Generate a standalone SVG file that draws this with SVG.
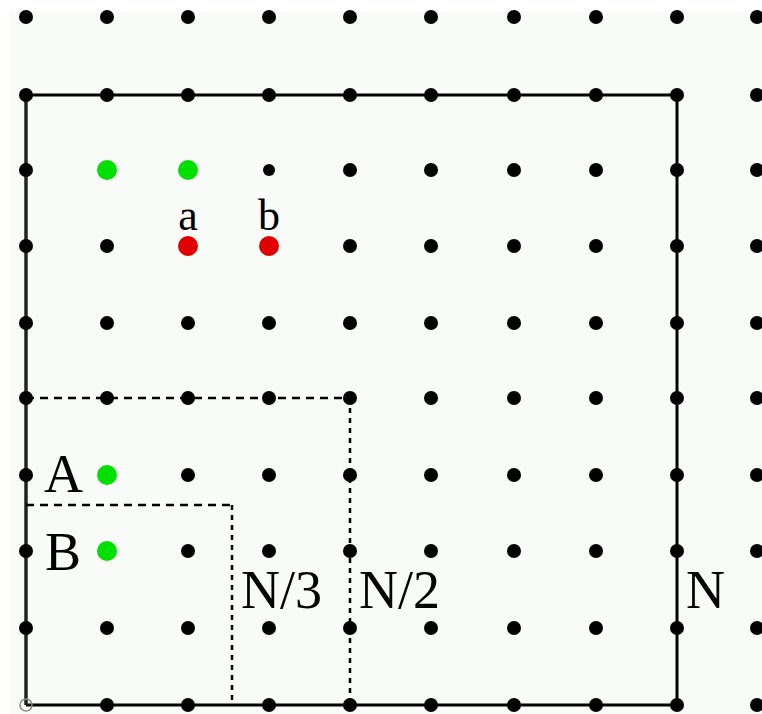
<svg xmlns="http://www.w3.org/2000/svg" width="762" height="714" viewBox="0 0 762 714">
<style>
.bg{fill:#f9fbf9}
.d{fill:#000}
.g{fill:#00e000}
.r{fill:#e00000}
.solid{stroke:#000;stroke-width:3;fill:none}
.dash{stroke:#000;stroke-width:2.5;fill:none;stroke-dasharray:8,6}
.dot{stroke:#000;stroke-width:2.5;fill:none;stroke-dasharray:5,5}
text{font-family:"Liberation Serif","Times New Roman",serif;fill:#000}
.big{font-size:54px}
.sm{font-size:44px}
</style>
<rect x="0" y="0" width="762" height="714" fill="#ffffff"/>
<rect class="bg" x="10" y="12" width="752" height="702"/>
<g id="connectors">
<path class="solid" d="M26 95 H677 V705 H26"/>
<path stroke="#222" stroke-width="3.5" fill="none" d="M26 95 V705"/>
<path class="dash" d="M26 398 H350"/>
<path class="dot" d="M350 398 V705"/>
<path class="dash" d="M26 505 H232"/>
<path class="dot" d="M232 505 V705"/>
<circle cx="26" cy="705" r="6" fill="none" stroke="#888" stroke-width="1.5"/>
</g>
<g id="grid">
<g class="d">
<circle cx="26" cy="17" r="7"/><circle cx="107" cy="17" r="7"/><circle cx="188" cy="17" r="7"/><circle cx="269" cy="17" r="7"/><circle cx="350" cy="17" r="7"/><circle cx="431" cy="17" r="7"/><circle cx="514" cy="17" r="7"/><circle cx="596" cy="17" r="7"/><circle cx="677" cy="17" r="7"/><circle cx="757" cy="17" r="7"/>
<circle cx="26" cy="95" r="7"/><circle cx="107" cy="95" r="7"/><circle cx="188" cy="95" r="7"/><circle cx="269" cy="95" r="7"/><circle cx="350" cy="95" r="7"/><circle cx="431" cy="95" r="7"/><circle cx="514" cy="95" r="7"/><circle cx="596" cy="95" r="7"/><circle cx="677" cy="95" r="7"/><circle cx="757" cy="95" r="7"/>
<circle cx="26" cy="170" r="7"/><circle cx="269" cy="170" r="6"/><circle cx="350" cy="170" r="7"/><circle cx="431" cy="170" r="7"/><circle cx="514" cy="170" r="7"/><circle cx="596" cy="170" r="7"/><circle cx="677" cy="170" r="7"/><circle cx="757" cy="170" r="7"/>
<circle cx="26" cy="246" r="7"/><circle cx="107" cy="246" r="7"/><circle cx="350" cy="246" r="7"/><circle cx="431" cy="246" r="7"/><circle cx="514" cy="246" r="7"/><circle cx="596" cy="246" r="7"/><circle cx="677" cy="246" r="7"/><circle cx="757" cy="246" r="7"/>
<circle cx="26" cy="323" r="7"/><circle cx="107" cy="323" r="7"/><circle cx="188" cy="323" r="7"/><circle cx="269" cy="323" r="7"/><circle cx="350" cy="323" r="7"/><circle cx="431" cy="323" r="7"/><circle cx="514" cy="323" r="7"/><circle cx="596" cy="323" r="7"/><circle cx="677" cy="323" r="7"/><circle cx="757" cy="323" r="7"/>
<circle cx="26" cy="398" r="7"/><circle cx="107" cy="398" r="7"/><circle cx="188" cy="398" r="7"/><circle cx="269" cy="398" r="7"/><circle cx="350" cy="398" r="7"/><circle cx="431" cy="398" r="7"/><circle cx="514" cy="398" r="7"/><circle cx="596" cy="398" r="7"/><circle cx="677" cy="398" r="7"/><circle cx="757" cy="398" r="7"/>
<circle cx="26" cy="475" r="7"/><circle cx="188" cy="475" r="7"/><circle cx="269" cy="475" r="7"/><circle cx="350" cy="475" r="7"/><circle cx="431" cy="475" r="7"/><circle cx="514" cy="475" r="7"/><circle cx="596" cy="475" r="7"/><circle cx="677" cy="475" r="7"/><circle cx="757" cy="475" r="7"/>
<circle cx="26" cy="551" r="7"/><circle cx="188" cy="551" r="7"/><circle cx="269" cy="551" r="7"/><circle cx="350" cy="551" r="7"/><circle cx="431" cy="551" r="7"/><circle cx="514" cy="551" r="7"/><circle cx="596" cy="551" r="7"/><circle cx="677" cy="551" r="7"/><circle cx="757" cy="551" r="7"/>
<circle cx="26" cy="628" r="7"/><circle cx="107" cy="628" r="7"/><circle cx="188" cy="628" r="7"/><circle cx="269" cy="628" r="7"/><circle cx="350" cy="628" r="7"/><circle cx="431" cy="628" r="7"/><circle cx="514" cy="628" r="7"/><circle cx="596" cy="628" r="7"/><circle cx="677" cy="628" r="7"/><circle cx="757" cy="628" r="7"/>
<circle cx="107" cy="705" r="7"/><circle cx="188" cy="705" r="7"/><circle cx="269" cy="705" r="7"/><circle cx="350" cy="705" r="7"/><circle cx="431" cy="705" r="7"/><circle cx="514" cy="705" r="7"/><circle cx="596" cy="705" r="7"/><circle cx="677" cy="705" r="7"/><circle cx="757" cy="705" r="7"/>
</g>
</g>
<g id="green1"><circle class="g" cx="107" cy="170" r="10"/></g>
<g id="green2"><circle class="g" cx="188" cy="170" r="10"/></g>
<g id="a"><circle class="r" cx="188" cy="246" r="10"/><text class="sm" x="188" y="230" text-anchor="middle">a</text></g>
<g id="b"><circle class="r" cx="269" cy="246" r="10"/><text class="sm" x="269" y="230" text-anchor="middle">b</text></g>
<g id="A"><circle class="g" cx="107" cy="475" r="10"/><text class="big" x="44" y="492">A</text></g>
<g id="B"><circle class="g" cx="107" cy="551" r="10"/><text class="big" x="45" y="570">B</text></g>
<g id="N3"><text class="big" x="241" y="608">N/3</text></g>
<g id="N2"><text class="big" x="359" y="608">N/2</text></g>
<g id="N"><text class="big" x="686" y="608">N</text></g>
</svg>
